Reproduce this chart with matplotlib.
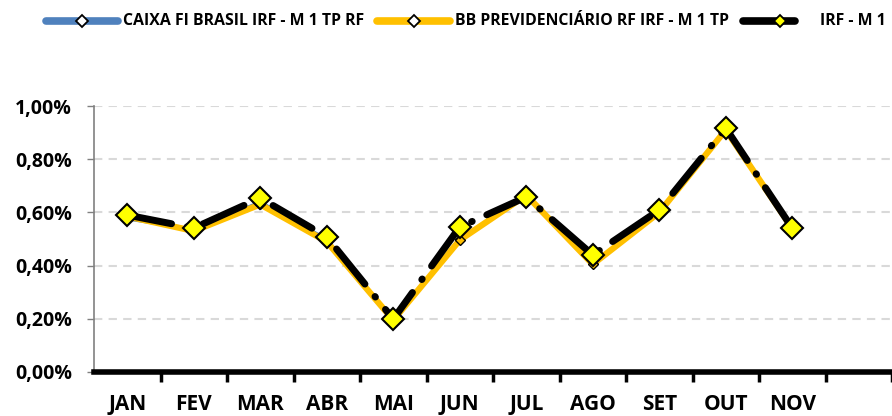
import matplotlib.pyplot as plt
from matplotlib.lines import Line2D
from matplotlib.ticker import FuncFormatter

meses = ['JAN', 'FEV', 'MAR', 'ABR', 'MAI', 'JUN', 'JUL', 'AGO', 'SET', 'OUT', 'NOV']
caixa = [0.575, 0.535, 0.640, 0.500, 0.195, 0.500, 0.670, 0.410, 0.600, 0.915, 0.545]
bb = [0.585, 0.530, 0.630, 0.490, 0.195, 0.496, 0.665, 0.405, 0.600, 0.910, 0.540]
irfm1 = [0.590, 0.541, 0.654, 0.508, 0.199, 0.545, 0.658, 0.440, 0.609, 0.917, 0.541]
nomes = ['CAIXA FI BRASIL IRF - M 1 TP RF', 'BB PREVIDENCIÁRIO RF IRF - M 1 TP', 'IRF - M 1']

plt.rcParams['font.family'] = ['Open Sans', 'DejaVu Sans']

W, H = 892, 416
fig = plt.figure(figsize=(W/100, H/100), dpi=100)
ax = fig.add_axes([94/W, 44/H, 798/W, 266/H])

x = list(range(len(meses)))
ax.plot(x, caixa, color='#4F81BD', lw=2, marker='D', ms=5, mfc='#FFC000', mec='black', mew=1, zorder=3)
ax.plot(x, bb, color='#FFC000', lw=4.5, marker='D', ms=5, mfc='#FFC000', mec='black', mew=1, zorder=4)
ax.plot(x, irfm1, color='black', lw=5, dashes=(6.5, 2.3, 0.1, 2.3), dash_capstyle='round',
        marker='D', ms=11, mfc='#FFFF00', mec='black', mew=1.5, zorder=5)

ax.set_xlim(-0.5, 11.5)
ax.set_ylim(0, 1.0)
ax.set_yticks([0, 0.2, 0.4, 0.6, 0.8, 1.0])
ax.yaxis.set_major_formatter(FuncFormatter(lambda v, p: ('%.2f%%' % v).replace('.', ',')))
ax.grid(axis='y', color='#D9D9D9', lw=1.5, dashes=(4, 3))
ax.set_axisbelow(True)

ax.set_xticks(x)
ax.set_xticklabels(meses, fontsize=15, fontweight='bold')
ax.tick_params(axis='x', which='major', length=0, pad=16)
ax.set_xticks([i + 0.5 for i in range(12)], minor=True)
ax.tick_params(axis='x', which='minor', length=7, width=2.5, color='black')
ax.tick_params(axis='y', length=5, width=1, color='#808080', labelsize=14, pad=11)
for t in ax.get_yticklabels():
    t.set_fontweight('bold')

for s in ['top', 'right']:
    ax.spines[s].set_visible(False)
ax.spines['left'].set_color('#808080')
ax.spines['left'].set_linewidth(1.2)
ax.spines['bottom'].set_color('black')
ax.spines['bottom'].set_linewidth(4)

# legenda feita a mao (posicoes em pixels da figura)
ly = (H - 21) / H
leg = [
    (46, 118, 82, '#4F81BD', 'white', 123),
    (377, 450, 414, '#FFC000', 'white', 455),
    (743, 795, 780, 'black', '#FFFF00', 820),
]
for (x0, x1, xm, cor, mfc, xt), nome in zip(leg, nomes):
    fig.add_artist(Line2D([x0/W, x1/W], [ly, ly], transform=fig.transFigure, color=cor,
                          lw=5.5, solid_capstyle='round'))
    fig.add_artist(Line2D([xm/W], [ly], transform=fig.transFigure, marker='D', ms=6,
                          mfc=mfc, mec='black', mew=1.3, lw=0))
    fig.text(xt/W, ly, nome, fontsize=11.4, fontweight='bold', va='center', ha='left')

fig.savefig('out.png', dpi=100)
